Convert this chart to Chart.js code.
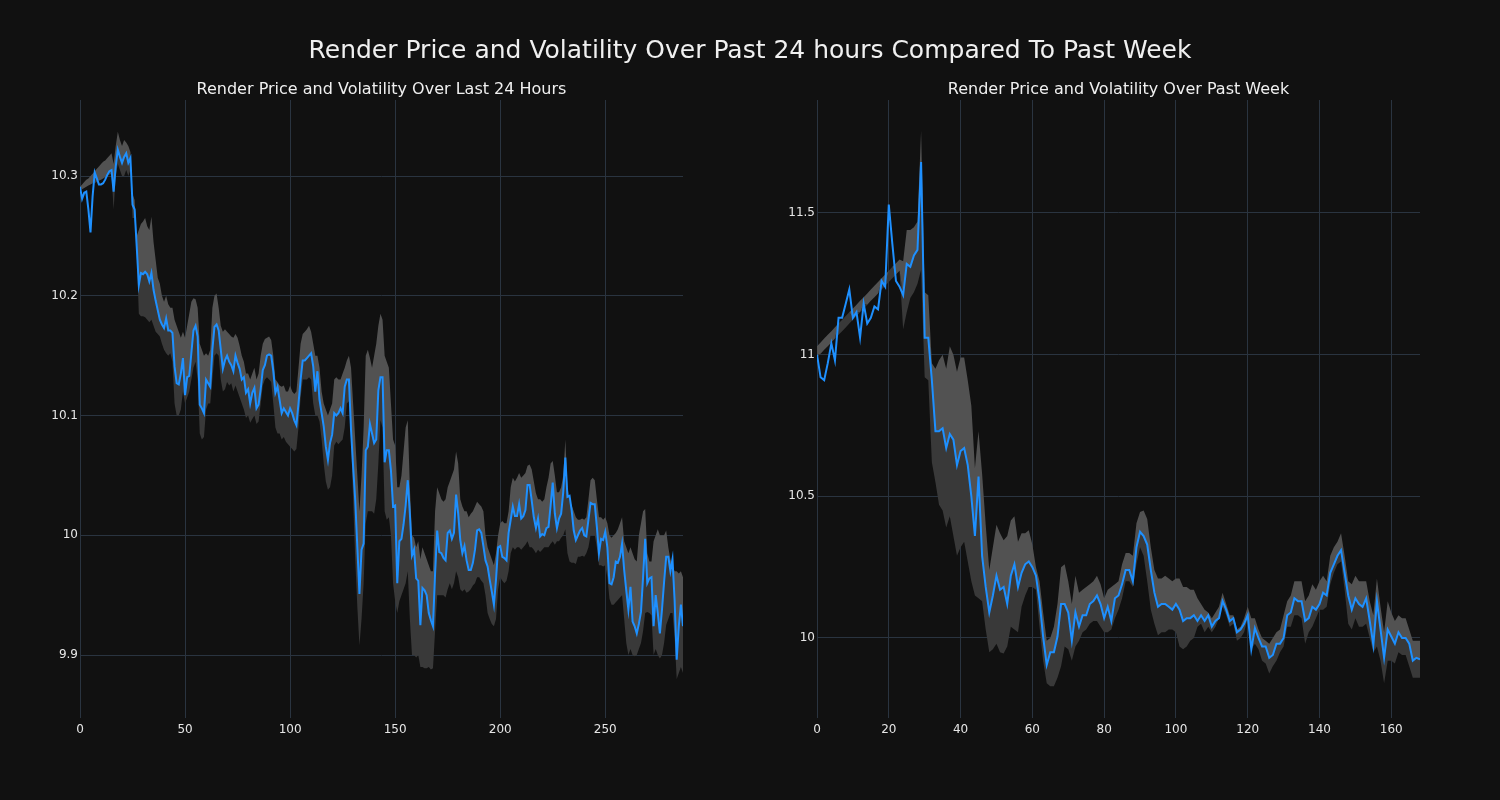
<!DOCTYPE html>
<html>
<head>
<meta charset="utf-8">
<script src="https://cdn.jsdelivr.net/npm/chart.js@4.4.1/dist/chart.umd.min.js"></script>
<style>
  html, body { margin: 0; padding: 0; background: #111111; }
  #wrap { position: relative; width: 1500px; height: 800px; background: #111111; overflow: hidden; }
  canvas { position: absolute; top: 0; }
  .title { position: absolute; color: #f0f0f0; font-family: 'DejaVu Sans', sans-serif; white-space: nowrap; text-align: center; }
  #mainTitle { left: 0; width: 1500px; top: 36px; font-size: 25px; line-height: 28px; }
  .sub { font-size: 16px; line-height: 18px; top: 80px; }
</style>
</head>
<body>
<div id="wrap">
  <canvas id="dayChart" width="750" height="800" style="left:0"></canvas>
  <canvas id="weekChart" width="750" height="800" style="left:750px"></canvas>
  <div id="mainTitle" class="title">Render Price and Volatility Over Past 24 hours Compared To Past Week</div>
  <div class="title sub" style="left:80px;width:603px">Render Price and Volatility Over Last 24 Hours</div>
  <div class="title sub" style="left:817px;width:603px">Render Price and Volatility Over Past Week</div>
</div>
<script>
// last 24 hours (5 minute steps), price and volatility band
const dayPrice = [
  10.291, 10.281, 10.286, 10.287, 10.272, 10.253, 10.283, 10.303, 10.298, 10.293, 10.293, 10.294,
  10.297, 10.301, 10.304, 10.305, 10.287, 10.308, 10.322, 10.316, 10.311, 10.316, 10.319, 10.311,
  10.315, 10.276, 10.272, 10.241, 10.209, 10.219, 10.218, 10.220, 10.218, 10.212, 10.219, 10.205,
  10.196, 10.188, 10.180, 10.176, 10.173, 10.181, 10.171, 10.171, 10.169, 10.141, 10.127, 10.126,
  10.135, 10.148, 10.117, 10.132, 10.133, 10.152, 10.171, 10.175, 10.166, 10.109, 10.106, 10.102,
  10.130, 10.127, 10.124, 10.155, 10.174, 10.176, 10.171, 10.155, 10.139, 10.146, 10.150, 10.145,
  10.142, 10.137, 10.150, 10.144, 10.139, 10.130, 10.132, 10.119, 10.122, 10.110, 10.119, 10.123,
  10.106, 10.109, 10.122, 10.138, 10.142, 10.150, 10.151, 10.150, 10.137, 10.119, 10.124, 10.113,
  10.102, 10.106, 10.103, 10.100, 10.106, 10.102, 10.096, 10.092, 10.110, 10.130, 10.146, 10.146,
  10.148, 10.150, 10.152, 10.141, 10.120, 10.137, 10.113, 10.102, 10.091, 10.074, 10.063, 10.077,
  10.084, 10.102, 10.100, 10.102, 10.106, 10.102, 10.124, 10.130, 10.130, 10.088, 10.057, 10.029,
  9.990, 9.951, 9.988, 9.993, 10.071, 10.074, 10.093, 10.085, 10.077, 10.080, 10.121, 10.132,
  10.132, 10.061, 10.071, 10.071, 10.054, 10.024, 10.025, 9.960, 9.995, 9.997, 10.009, 10.025,
  10.046, 10.018, 9.983, 9.988, 9.964, 9.962, 9.925, 9.956, 9.954, 9.950, 9.935, 9.929,
  9.924, 9.968, 10.004, 9.986, 9.985, 9.981, 9.979, 10.002, 10.004, 9.997, 10.002, 10.034,
  10.018, 9.996, 9.985, 9.991, 9.979, 9.971, 9.971, 9.977, 9.988, 10.004, 10.005, 10.002,
  9.991, 9.979, 9.974, 9.963, 9.953, 9.942, 9.963, 9.990, 9.991, 9.982, 9.981, 9.979,
  10.002, 10.013, 10.024, 10.016, 10.016, 10.026, 10.014, 10.016, 10.021, 10.042, 10.042, 10.029,
  10.015, 10.006, 10.014, 9.999, 10.001, 10.000, 10.006, 10.007, 10.025, 10.044, 10.018, 10.006,
  10.014, 10.018, 10.036, 10.065, 10.032, 10.033, 10.021, 10.004, 9.996, 10.000, 10.004, 10.006,
  10.000, 9.999, 10.013, 10.027, 10.026, 10.026, 10.007, 9.985, 9.997, 9.996, 10.003, 9.990,
  9.960, 9.959, 9.965, 9.978, 9.977, 9.982, 9.993, 9.971, 9.954, 9.938, 9.957, 9.928,
  9.924, 9.918, 9.926, 9.936, 9.965, 9.997, 9.960, 9.964, 9.965, 9.924, 9.950, 9.935,
  9.918, 9.938, 9.961, 9.982, 9.982, 9.970, 9.980, 9.946, 9.896, 9.924, 9.942, 9.924
];
const dayBandHigh = [
  10.291, 10.293, 10.295, 10.297, 10.298, 10.300, 10.302, 10.304, 10.306, 10.308, 10.310, 10.312,
  10.313, 10.315, 10.317, 10.319, 10.310, 10.325, 10.337, 10.330, 10.325, 10.330, 10.328, 10.325,
  10.320, 10.285, 10.280, 10.250, 10.255, 10.260, 10.262, 10.265, 10.258, 10.255, 10.266, 10.245,
  10.230, 10.215, 10.210, 10.200, 10.195, 10.200, 10.193, 10.190, 10.190, 10.180, 10.175, 10.170,
  10.165, 10.170, 10.165, 10.175, 10.185, 10.195, 10.198, 10.197, 10.190, 10.160, 10.155, 10.150,
  10.152, 10.150, 10.155, 10.190, 10.200, 10.202, 10.190, 10.175, 10.170, 10.172, 10.170, 10.168,
  10.166, 10.165, 10.168, 10.165, 10.158, 10.150, 10.145, 10.135, 10.135, 10.130, 10.135, 10.140,
  10.130, 10.135, 10.150, 10.160, 10.164, 10.165, 10.166, 10.163, 10.150, 10.130, 10.128, 10.125,
  10.124, 10.125, 10.120, 10.120, 10.125, 10.120, 10.118, 10.120, 10.140, 10.160, 10.168, 10.170,
  10.172, 10.175, 10.170, 10.160, 10.150, 10.150, 10.140, 10.120, 10.110, 10.105, 10.100, 10.105,
  10.110, 10.130, 10.132, 10.130, 10.130, 10.135, 10.140, 10.146, 10.150, 10.140, 10.110, 10.080,
  10.050, 10.020, 10.050, 10.090, 10.150, 10.155, 10.148, 10.140, 10.150, 10.160, 10.175, 10.185,
  10.180, 10.150, 10.145, 10.140, 10.110, 10.080, 10.075, 10.040, 10.040, 10.050, 10.070, 10.090,
  10.096, 10.040, 10.000, 9.998, 9.990, 9.995, 9.980, 9.990, 9.985, 9.980, 9.975, 9.970,
  9.970, 10.020, 10.040, 10.035, 10.030, 10.028, 10.030, 10.040, 10.045, 10.050, 10.055, 10.070,
  10.060, 10.030, 10.024, 10.020, 10.020, 10.015, 10.018, 10.020, 10.024, 10.028, 10.026, 10.024,
  10.020, 10.000, 9.990, 9.985, 9.980, 9.975, 9.985, 10.000, 10.010, 10.012, 10.010, 10.010,
  10.020, 10.040, 10.048, 10.045, 10.048, 10.052, 10.048, 10.050, 10.052, 10.058, 10.059, 10.055,
  10.045, 10.035, 10.030, 10.030, 10.028, 10.030, 10.040, 10.048, 10.060, 10.062, 10.050, 10.036,
  10.036, 10.040, 10.050, 10.080, 10.040, 10.030, 10.025, 10.020, 10.015, 10.013, 10.013, 10.014,
  10.013, 10.015, 10.030, 10.046, 10.048, 10.046, 10.030, 10.015, 10.015, 10.013, 10.015, 10.010,
  10.000, 9.998, 10.000, 10.002, 10.005, 10.010, 10.015, 9.995, 9.990, 9.985, 9.990, 9.985,
  9.980, 9.978, 10.000, 10.010, 10.020, 10.022, 9.985, 9.978, 9.978, 9.995, 10.000, 10.005,
  10.000, 10.000, 10.000, 10.004, 9.990, 9.980, 9.975, 9.970, 9.970, 9.968, 9.970, 9.965
];
const dayBandLow = [
  10.288, 10.289, 10.290, 10.291, 10.292, 10.293, 10.294, 10.294, 10.295, 10.296, 10.297, 10.298,
  10.299, 10.300, 10.301, 10.302, 10.272, 10.300, 10.310, 10.305, 10.300, 10.300, 10.305, 10.300,
  10.305, 10.265, 10.265, 10.235, 10.185, 10.183, 10.183, 10.182, 10.180, 10.178, 10.180, 10.175,
  10.170, 10.168, 10.166, 10.160, 10.155, 10.152, 10.150, 10.152, 10.145, 10.110, 10.100, 10.100,
  10.105, 10.120, 10.110, 10.115, 10.120, 10.130, 10.140, 10.145, 10.130, 10.085, 10.080, 10.082,
  10.105, 10.110, 10.110, 10.130, 10.150, 10.152, 10.150, 10.130, 10.120, 10.122, 10.128, 10.125,
  10.127, 10.120, 10.125, 10.120, 10.115, 10.110, 10.105, 10.098, 10.100, 10.094, 10.097, 10.100,
  10.093, 10.095, 10.110, 10.125, 10.130, 10.132, 10.130, 10.128, 10.110, 10.090, 10.085, 10.085,
  10.080, 10.082, 10.078, 10.076, 10.074, 10.072, 10.070, 10.072, 10.090, 10.115, 10.130, 10.130,
  10.130, 10.132, 10.130, 10.110, 10.100, 10.100, 10.095, 10.080, 10.060, 10.045, 10.038, 10.040,
  10.050, 10.075, 10.078, 10.076, 10.078, 10.080, 10.090, 10.110, 10.112, 10.080, 10.030, 9.980,
  9.940, 9.908, 9.930, 9.960, 10.010, 10.020, 10.020, 10.020, 10.018, 10.030, 10.060, 10.096,
  10.090, 10.020, 10.013, 10.015, 10.000, 9.960, 9.945, 9.935, 9.945, 9.950, 9.955, 9.960,
  9.970, 9.930, 9.900, 9.900, 9.898, 9.900, 9.890, 9.890, 9.889, 9.889, 9.890, 9.888,
  9.889, 9.920, 9.950, 9.950, 9.950, 9.950, 9.948, 9.955, 9.960, 9.955, 9.960, 9.970,
  9.965, 9.955, 9.953, 9.955, 9.952, 9.953, 9.955, 9.958, 9.960, 9.965, 9.965, 9.962,
  9.960, 9.950, 9.935, 9.930, 9.926, 9.924, 9.930, 9.955, 9.965, 9.962, 9.960, 9.962,
  9.970, 9.985, 9.990, 9.988, 9.990, 9.990, 9.988, 9.990, 9.992, 9.995, 9.990, 9.990,
  9.988, 9.985, 9.988, 9.986, 9.988, 9.990, 9.990, 9.990, 9.993, 9.995, 9.992, 9.995,
  9.995, 9.998, 10.000, 10.005, 9.985, 9.978, 9.977, 9.977, 9.976, 9.982, 9.982, 9.983,
  9.982, 9.985, 9.990, 10.000, 10.000, 10.000, 9.990, 9.975, 9.975, 9.974, 9.975, 9.965,
  9.947, 9.942, 9.942, 9.944, 9.946, 9.948, 9.950, 9.930, 9.910, 9.900, 9.905, 9.900,
  9.899, 9.900, 9.905, 9.910, 9.920, 9.935, 9.936, 9.935, 9.933, 9.900, 9.905, 9.900,
  9.897, 9.900, 9.910, 9.925, 9.930, 9.935, 9.935, 9.915, 9.880, 9.885, 9.890, 9.885
];

// past week (hourly steps), price and volatility band
const weekPrice = [
  11.00, 10.92, 10.91, 10.97, 11.04, 10.98, 11.13, 11.13, 11.18, 11.23, 11.13, 11.15,
  11.06, 11.18, 11.11, 11.13, 11.17, 11.16, 11.26, 11.24, 11.53, 11.39, 11.26, 11.24,
  11.21, 11.32, 11.31, 11.35, 11.37, 11.68, 11.06, 11.06, 10.91, 10.73, 10.73, 10.74,
  10.67, 10.72, 10.70, 10.61, 10.66, 10.67, 10.61, 10.50, 10.36, 10.57, 10.29, 10.18,
  10.09, 10.15, 10.22, 10.17, 10.18, 10.12, 10.22, 10.26, 10.18, 10.23, 10.26, 10.27,
  10.25, 10.22, 10.13, 10.005, 9.905, 9.95, 9.95, 10.005, 10.12, 10.12, 10.09, 9.99,
  10.09, 10.04, 10.08, 10.08, 10.12, 10.13, 10.15, 10.12, 10.07, 10.11, 10.06, 10.14,
  10.15, 10.19, 10.24, 10.24, 10.20, 10.32, 10.375, 10.36, 10.33, 10.24, 10.16, 10.11,
  10.12, 10.12, 10.11, 10.10, 10.12, 10.10, 10.06, 10.07, 10.07, 10.08, 10.06, 10.08,
  10.06, 10.08, 10.04, 10.06, 10.07, 10.13, 10.10, 10.06, 10.07, 10.02, 10.03, 10.05,
  10.08, 9.96, 10.035, 10.00, 9.97, 9.97, 9.93, 9.94, 9.98, 9.98, 10.00, 10.08,
  10.09, 10.14, 10.13, 10.13, 10.06, 10.07, 10.11, 10.10, 10.12, 10.16, 10.15, 10.23,
  10.26, 10.29, 10.31, 10.23, 10.15, 10.10, 10.14, 10.12, 10.11, 10.14, 10.06, 9.975,
  10.13, 10.03, 9.93, 10.03, 10.005, 9.98, 10.02, 10.00, 10.00, 9.98, 9.92, 9.93,
  9.925
];
const weekBandHigh = [
  11.030, 11.043, 11.057, 11.070, 11.083, 11.097, 11.110, 11.123, 11.136, 11.150, 11.163, 11.176,
  11.190, 11.203, 11.216, 11.230, 11.243, 11.256, 11.270, 11.283, 11.296, 11.310, 11.323, 11.336,
  11.33, 11.44, 11.44, 11.45, 11.47, 11.79, 11.22, 11.21, 10.97, 10.95, 10.98, 11.00,
  10.95, 11.03, 11.00, 10.94, 10.99, 10.99, 10.91, 10.82, 10.60, 10.73, 10.58, 10.40,
  10.24, 10.32, 10.40, 10.37, 10.345, 10.36, 10.415, 10.43, 10.34, 10.37, 10.37, 10.38,
  10.33, 10.25, 10.20, 10.09, 9.99, 10.00, 10.04, 10.12, 10.25, 10.26, 10.20, 10.12,
  10.22, 10.16, 10.17, 10.18, 10.19, 10.20, 10.22, 10.19, 10.14, 10.17, 10.18, 10.19,
  10.20, 10.26, 10.30, 10.30, 10.29, 10.405, 10.445, 10.45, 10.42, 10.32, 10.24, 10.21,
  10.21, 10.22, 10.21, 10.20, 10.21, 10.21, 10.18, 10.18, 10.17, 10.17, 10.14, 10.12,
  10.10, 10.09, 10.07, 10.09, 10.11, 10.16, 10.12, 10.08, 10.08, 10.03, 10.04, 10.07,
  10.11, 10.07, 10.07, 10.03, 10.00, 9.99, 9.98, 10.00, 10.02, 10.03, 10.08, 10.13,
  10.15, 10.20, 10.20, 10.20, 10.13, 10.15, 10.19, 10.17, 10.20, 10.22, 10.20, 10.29,
  10.32, 10.34, 10.37, 10.29, 10.20, 10.19, 10.22, 10.20, 10.20, 10.20, 10.13, 10.08,
  10.21, 10.11, 10.02, 10.13, 10.09, 10.06, 10.08, 10.07, 10.07, 10.03, 9.99, 9.99,
  9.99
];
const weekBandLow = [
  10.990, 11.003, 11.017, 11.030, 11.043, 11.057, 11.070, 11.083, 11.096, 11.110, 11.123, 11.136,
  11.150, 11.163, 11.176, 11.190, 11.203, 11.216, 11.230, 11.243, 11.256, 11.270, 11.283, 11.296,
  11.09, 11.15, 11.20, 11.22, 11.25, 11.30, 10.92, 10.91, 10.62, 10.55, 10.47, 10.45,
  10.39, 10.43, 10.36, 10.29, 10.32, 10.34, 10.27, 10.20, 10.15, 10.14, 10.13, 10.03,
  9.95, 9.96, 9.98, 9.95, 9.945, 9.97, 10.04, 10.03, 10.02, 10.11, 10.15, 10.18,
  10.18, 10.17, 10.04, 9.92, 9.84, 9.83, 9.83, 9.86, 9.90, 9.97, 9.96, 9.92,
  9.97, 9.99, 10.02, 10.03, 10.05, 10.06, 10.06, 10.04, 10.02, 10.02, 10.03, 10.07,
  10.10, 10.14, 10.20, 10.20, 10.18, 10.26, 10.32, 10.29, 10.20, 10.10, 10.05, 10.01,
  10.02, 10.02, 10.03, 10.03, 10.02, 9.97, 9.96, 9.97, 9.99, 10.00, 10.04, 10.05,
  10.02, 10.04, 10.02, 10.04, 10.07, 10.11, 10.08, 10.04, 10.05, 9.99, 10.00, 10.02,
  10.07, 9.96, 9.98, 9.96, 9.92, 9.91, 9.875, 9.90, 9.92, 9.95, 9.97, 10.04,
  10.04, 10.08, 10.08, 10.07, 9.98, 10.02, 10.04, 10.07, 10.10, 10.10, 10.11, 10.19,
  10.23, 10.26, 10.27, 10.17, 10.05, 10.03, 10.07, 10.04, 10.04, 10.05, 10.00, 9.95,
  9.97, 9.92, 9.84, 9.92, 9.92, 9.91, 9.95, 9.94, 9.94, 9.90, 9.86, 9.86,
  9.86
];

const dayXTicks = [0, 50, 100, 150, 200, 250];
const dayYTicks = [9.9, 10, 10.1, 10.2, 10.3];
const weekXTicks = [0, 20, 40, 60, 80, 100, 120, 140, 160];
const weekYTicks = [10, 10.5, 11, 11.5];

const GRID = '#2a3440';
const TICK_COLOR = '#e6e6e6';
const LINE_COLOR = '#1e90ff';
const BAND_HIGH = '#525252';
const BAND_LOW = '#393939';

function pts(arr) {
    return arr.map((v, i) => ({ x: i, y: v }));
}

function makeChart(id, price, high, low, xTicks, yTicks, yRange, pad) {
    // middle edge of the band: price kept inside the band so the two shades meet at the line
    const mid = price.map((v, i) => Math.min(Math.max(v, low[i]), high[i]));
    const hidden = { borderWidth: 0, pointRadius: 0, tension: 0, order: 2 };

    return new Chart(document.getElementById(id), {
        type: 'line',
        data: {
            datasets: [
                Object.assign({ data: pts(high), fill: '+1', backgroundColor: BAND_HIGH }, hidden),
                Object.assign({ data: pts(mid), fill: '+1', backgroundColor: BAND_LOW }, hidden),
                Object.assign({ data: pts(low), fill: false }, hidden),
                {
                    data: pts(price),
                    borderColor: LINE_COLOR,
                    borderWidth: 2,
                    pointRadius: 0,
                    tension: 0,
                    fill: false,
                    order: 1
                }
            ]
        },
        options: {
            responsive: false,
            animation: false,
            devicePixelRatio: 1,
            events: [],
            layout: { padding: pad },
            plugins: {
                legend: { display: false },
                tooltip: { enabled: false },
                title: { display: false }
            },
            scales: {
                x: {
                    type: 'linear',
                    min: 0,
                    max: price.length - 1,
                    grid: { color: GRID, lineWidth: 1, drawTicks: false },
                    border: { display: false },
                    afterBuildTicks: (s) => { s.ticks = xTicks.map(v => ({ value: v })); },
                    afterFit: (s) => { s.height = 30; },
                    ticks: {
                        color: TICK_COLOR,
                        padding: 5,
                        maxRotation: 0,
                        font: { family: 'DejaVu Sans', size: 12 },
                        callback: (v) => String(v)
                    }
                },
                y: {
                    min: yRange[0],
                    max: yRange[1],
                    grid: { color: GRID, lineWidth: 1, drawTicks: false },
                    border: { display: false },
                    afterBuildTicks: (s) => { s.ticks = yTicks.map(v => ({ value: v })); },
                    afterFit: (s) => { s.width = 50; },
                    ticks: {
                        color: TICK_COLOR,
                        padding: 2,
                        font: { family: 'DejaVu Sans', size: 12 },
                        callback: (v) => String(Number(v.toFixed(2)))
                    }
                }
            }
        }
    });
}

makeChart('dayChart', dayPrice, dayBandHigh, dayBandLow, dayXTicks, dayYTicks,
    [9.8474, 10.3635], { left: 30, right: 67, top: 100, bottom: 52 });
makeChart('weekChart', weekPrice, weekBandHigh, weekBandLow, weekXTicks, weekYTicks,
    [9.7176, 11.8988], { left: 17, right: 80, top: 100, bottom: 52 });
</script>
</body>
</html>
